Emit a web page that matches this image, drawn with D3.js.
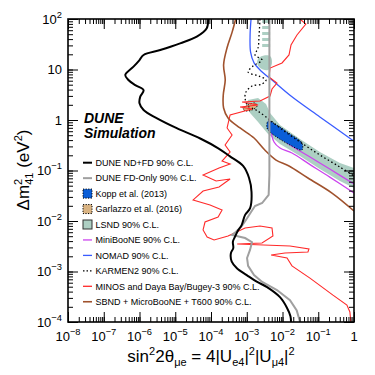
<!DOCTYPE html>
<html>
<head>
<meta charset="utf-8">
<script src="https://cdn.jsdelivr.net/npm/d3@7"></script>
<style>
  body { margin: 0; background: #fff; }
  svg { font-family: "Liberation Sans", Arial, sans-serif; }
</style>
</head>
<body>
<svg id="chart" width="375" height="375"></svg>
<script>
// sensitivity / exclusion curves: [sin^2 2theta_mue, dm2_41 (eV^2)]
const duneNDFD = [[8.3e-5,100],[7.6e-5,65.5],[4.0e-5,44.7],[1.37e-5,33],[3.8e-6,24.3],[1.3e-6,19.4],[1.0e-6,15.4],[6.8e-7,11.4],[4.0e-7,7.8],[4.9e-7,6.2],[7.6e-7,4.9],[1.3e-6,3.9],[1.05e-6,2.9],[1.0e-6,2.14],[1.3e-6,1.58],[3.1e-6,1.08],[1.1e-5,0.69],[5.0e-5,0.43],[1.6e-4,0.275],[3.4e-4,0.19],[7.9e-4,0.123],[1.16e-3,0.071],[1.36e-3,0.0375],[1.24e-3,0.018],[9.0e-4,0.0132],[7.2e-4,0.0083],[5.8e-4,0.0066],[4.7e-4,0.0049],[4.1e-4,0.0039],[4.2e-4,0.0029],[3.6e-4,0.0023],[3.8e-4,0.00156],[5.3e-4,0.00116],[1.0e-3,8.5e-4],[1.9e-3,6.3e-4],[3.7e-3,4.9e-4],[8.5e-3,3.1e-4],[1.34e-2,1.9e-4],[1.67e-2,1.3e-4],[1.73e-2,1e-4]];
const duneFD = [[4.3e-3,100],[4.3e-3,0.081],[4.1e-3,0.033],[2.7e-3,0.0227],[1.7e-3,0.0198],[1.32e-3,0.0151],[9.5e-4,0.0105],[6.9e-4,0.0076],[5.0e-4,0.0061],[3.9e-4,0.0053],[9.0e-4,0.0046],[1.4e-3,0.0038],[1.24e-3,0.0027],[1.02e-3,0.00185],[1.09e-3,0.00129],[1.6e-3,8.5e-4],[2.7e-3,6.2e-4],[7.0e-3,4.3e-4],[1.62e-2,2.7e-4],[2.5e-2,1.7e-4],[3.1e-2,1e-4]];
const sbnd = [[4.9e-4,100],[3.9e-4,55],[2.8e-4,26.7],[2.25e-4,12.3],[2.5e-4,6.2],[2.2e-4,3.1],[2.25e-4,1.73],[3.0e-4,1.1],[6.5e-4,0.695],[1.6e-3,0.44],[3.2e-3,0.255],[6.6e-3,0.161],[1.52e-2,0.123],[5.15e-2,0.071],[0.242,0.0358],[1,0.0158]];
const nomad = [[1.32e-3,100],[1.24e-3,48],[1.28e-3,22],[1.6e-3,13.5],[2.7e-3,8.9],[5.1e-3,6.2],[1.62e-2,3.1],[0.111,1.15],[1,0.38]];
const miniboone = [[1,0.054],[0.21,0.107],[5.9e-2,0.185],[1.62e-2,0.32],[5.1e-3,0.578],[5.8e-3,0.367],[8.5e-3,0.279],[1.84e-2,0.222],[5.9e-2,0.131],[0.21,0.074],[1,0.0358]];
const karmen = [[2.35e-3,100],[2.21e-3,48.2],[2.07e-3,26.7],[1.71e-3,19.4],[2.67e-3,15.4],[1.5e-3,11.7],[1.09e-3,8.9],[2.21e-3,7.4],[3.46e-3,6.2],[2.67e-3,5.16],[1.41e-3,4.71],[9.5e-4,3.58],[8.97e-4,2.73],[1.09e-3,1.89],[1.82e-3,1.58],[3.46e-3,1.15],[8.5e-3,0.695],[3.08e-2,0.367],[0.111,0.203],[0.404,0.117],[1,0.078]];
const minos = [[3.08e-2,100],[4.5e-2,79.6],[2.54e-2,48.2],[1.73e-2,30.5],[1.52e-2,19.4],[9.7e-3,13.5],[4.48e-3,10.7],[4.2e-3,7.1],[7.0e-3,5.4],[5.09e-3,4.11],[4.48e-3,2.98],[2.35e-3,2.38],[7.4e-4,2.27],[2.07e-3,1.98],[6.5e-4,1.81],[1.41e-3,1.65],[3.42e-4,1.26],[2.82e-4,0.695],[3.88e-4,0.505],[2.48e-4,0.32],[3.42e-4,0.232],[2.04e-4,0.154],[3.42e-4,0.135],[1.68e-4,0.112],[6.0e-5,0.0815],[1.39e-4,0.062],[3.42e-4,0.0679],[1.68e-4,0.0471],[6.0e-5,0.0393],[3.16e-5,0.0261],[9.4e-5,0.0207],[2.04e-4,0.0165],[1.58e-4,0.012],[6.8e-5,0.00955],[6.0e-5,0.00664],[7.8e-5,0.00482],[1.22e-4,0.00421],[3.0e-4,0.00505],[8.97e-4,0.00726],[2.35e-3,0.00796],[5.09e-3,0.00726],[5.4e-3,0.00505],[2.67e-3,0.00367],[5.4e-4,0.0035],[1.62e-2,0.0032],[5.5e-2,0.00279],[5.15e-2,0.00243],[1.17e-2,0.00232],[4.8e-3,0.00212],[1.34e-2,0.00185],[1.84e-2,0.00129],[5.86e-2,7.4e-4],[0.258,3.4e-4],[0.634,2.17e-4],[0.767,1.58e-4],[0.818,1e-4]];

// allowed regions (closed polygons)
const lsndStripes = [[83.4,95.5],[63.4,72.6],[48.2,55.3],[36.7,42.1],[27.9,32.0]]; // dm2 ranges of the thin high-dm2 islands
const lsndStripeX = [2.7e-3, 4.5e-3];
const lsndMid = [[2.35e-3,17.7],[4.48e-3,18.5],[5.09e-3,13.5],[3.94e-3,9.8],[2.35e-3,10.7],[1.94e-3,14.1]];
const lsndBand = [[1.09e-3,2.49],[2.07e-3,2.73],[3.46e-3,2.07],[4.48e-3,1.38],[8.5e-3,0.796],[3.08e-2,0.421],[0.111,0.232],[0.404,0.141],[1,0.112],[1,0.045],[0.404,0.062],[0.111,0.107],[3.08e-2,0.194],[8.5e-3,0.335],[3.94e-3,0.528],[2.07e-3,0.912],[1.24e-3,1.38],[9.5e-4,1.98]];
const kopp = [[3.94e-3,0.955],[6.2e-3,0.834],[1.62e-2,0.528],[3.5e-2,0.351],[3.5e-2,0.255],[1.62e-2,0.32],[7.5e-3,0.44],[4.48e-3,0.578],[3.69e-3,0.695]];
const garlazzo = [[7.9e-4,1.65],[1.09e-3,1.98],[1.71e-3,2.17],[1.94e-3,1.89],[1.41e-3,1.58],[9.5e-4,1.51]];

// axes
const xMajor = [1e-8,1e-7,1e-6,1e-5,1e-4,1e-3,1e-2,1e-1,1];
const xTickLabels = [["10","\u22128"],["10","\u22127"],["10","\u22126"],["10","\u22125"],["10","\u22124"],["10","\u22123"],["10","\u22122"],["10","\u22121"],["1",""]];
const yMajor = [1e-4,1e-3,1e-2,1e-1,1,10,100];
const yTickLabels = [["10","\u22124"],["10","\u22123"],["10","\u22122"],["10","\u22121"],["1",""],["10",""],["10","2"]];

const legendLabels = ["DUNE ND+FD 90% C.L.","DUNE FD-Only 90% C.L.","Kopp et al. (2013)","Garlazzo et al. (2016)","LSND 90% C.L.","MiniBooNE 90% C.L.","NOMAD 90% C.L.","KARMEN2 90% C.L.","MINOS and Daya Bay/Bugey-3 90% C.L.","SBND + MicroBooNE + T600 90% C.L."];

const svg = d3.select("#chart");
const L = 68, R = 354, T = 19, B = 322;

const x = d3.scaleLog().domain([1e-8, 1]).range([L, R]);
const y = d3.scaleLog().domain([1e-4, 100]).range([B, T]);

svg.append("defs").append("clipPath").attr("id", "plotclip")
  .append("rect").attr("x", L).attr("y", T).attr("width", R - L).attr("height", B - T);

const plot = svg.append("g").attr("clip-path", "url(#plotclip)");

const smooth = d3.line().x(d => x(d[0])).y(d => y(d[1])).curve(d3.curveCatmullRom.alpha(0.5));
const jagged = d3.line().x(d => x(d[0])).y(d => y(d[1]));
const closed = d3.line().x(d => x(d[0])).y(d => y(d[1])).curve(d3.curveCatmullRomClosed.alpha(0.5));

const C = {
  nd: "#000", fd: "#a0a0a0", kopp: "#0b5ed7", garl: "#d9b382", lsnd: "#adcfc3",
  mini: "#cc44ee", nomad: "#3a5cff", karmen: "#000", minos: "#ff2a2a", sbnd: "#a0522d"
};

// fills
lsndStripes.forEach(s => plot.append("rect")
  .attr("x", x(lsndStripeX[0])).attr("width", x(lsndStripeX[1]) - x(lsndStripeX[0]))
  .attr("y", y(s[1])).attr("height", y(s[0]) - y(s[1])).attr("fill", C.lsnd));
plot.append("path").attr("d", closed(lsndMid)).attr("fill", C.lsnd);
plot.append("path").attr("d", jagged(lsndBand) + "Z").attr("fill", C.lsnd);
plot.append("path").attr("d", smooth(miniboone)).attr("fill", "none").attr("stroke", C.mini).attr("stroke-width", 1.3);
plot.append("path").attr("d", closed(kopp)).attr("fill", C.kopp)
  .attr("stroke", "#000").attr("stroke-width", 1).attr("stroke-dasharray", "1.2,1.6");
plot.append("path").attr("d", closed(garlazzo)).attr("fill", C.garl)
  .attr("stroke", "#000").attr("stroke-width", 1).attr("stroke-dasharray", "1.2,1.6");

// lines
plot.append("path").attr("d", smooth(nomad)).attr("fill", "none").attr("stroke", C.nomad).attr("stroke-width", 1.3);
plot.append("path").attr("d", smooth(karmen)).attr("fill", "none").attr("stroke", C.karmen)
  .attr("stroke-width", 1.3).attr("stroke-dasharray", "1.5,2.5");
plot.append("path").attr("d", jagged(minos)).attr("fill", "none").attr("stroke", C.minos).attr("stroke-width", 1.1);
plot.append("path").attr("d", smooth(sbnd)).attr("fill", "none").attr("stroke", C.sbnd).attr("stroke-width", 1.6);
plot.append("path").attr("d", jagged(duneFD)).attr("fill", "none").attr("stroke", C.fd).attr("stroke-width", 2);
plot.append("path").attr("d", smooth(duneNDFD)).attr("fill", "none").attr("stroke", C.nd).attr("stroke-width", 2);

// axes: ticks on all four sides, pointing inward
const xMinor = x.ticks();
const yMinor = y.ticks();
function tickAxis(axisFn, scale, vals, size, transform) {
  const g = svg.append("g").attr("transform", transform)
    .call(axisFn(scale).tickValues(vals).tickSize(-size).tickFormat(""));
  g.select(".domain").remove();
  g.selectAll("line").attr("stroke", "#000").attr("stroke-width", 1);
  return g;
}
tickAxis(d3.axisBottom, x, xMinor, 5, `translate(0,${B})`);
tickAxis(d3.axisBottom, x, xMajor, 10, `translate(0,${B})`);
tickAxis(d3.axisTop, x, xMinor, 5, `translate(0,${T})`);
tickAxis(d3.axisTop, x, xMajor, 10, `translate(0,${T})`);
tickAxis(d3.axisLeft, y, yMinor, 5, `translate(${L},0)`);
tickAxis(d3.axisLeft, y, yMajor, 10, `translate(${L},0)`);
tickAxis(d3.axisRight, y, yMinor, 5, `translate(${R},0)`);
tickAxis(d3.axisRight, y, yMajor, 10, `translate(${R},0)`);

svg.append("rect").attr("x", L).attr("y", T).attr("width", R - L).attr("height", B - T)
  .attr("fill", "none").attr("stroke", "#000").attr("stroke-width", 1.6);

function powLabel(sel, lab, size) {
  sel.append("tspan").text(lab[0]);
  if (lab[1]) sel.append("tspan").attr("dy", -size * 0.45).attr("font-size", size * 0.72).text(lab[1]);
}
xMajor.forEach((v, i) => {
  const t = svg.append("text").attr("x", x(v)).attr("y", 341).attr("text-anchor", "middle")
    .attr("font-size", 13);
  powLabel(t, xTickLabels[i], 13);
});
yMajor.forEach((v, i) => {
  const t = svg.append("text").attr("x", 62).attr("y", y(v) + 4.5).attr("text-anchor", "end")
    .attr("font-size", 13);
  powLabel(t, yTickLabels[i], 13);
});

// axis titles
const xt = svg.append("text").attr("x", 211).attr("y", 362).attr("text-anchor", "middle").attr("font-size", 17);
xt.append("tspan").text("sin");
xt.append("tspan").attr("dy", -7).attr("font-size", 11).text("2");
xt.append("tspan").attr("dy", 7).text("2\u03b8");
xt.append("tspan").attr("dy", 4).attr("font-size", 11).text("\u03bce");
xt.append("tspan").attr("dy", -4).text(" = 4|U");
xt.append("tspan").attr("dy", 4).attr("font-size", 11).text("e4");
xt.append("tspan").attr("dy", -4).text("|");
xt.append("tspan").attr("dy", -7).attr("font-size", 11).text("2");
xt.append("tspan").attr("dy", 7).text("|U");
xt.append("tspan").attr("dy", 4).attr("font-size", 11).text("\u03bc4");
xt.append("tspan").attr("dy", -4).text("|");
xt.append("tspan").attr("dy", -7).attr("font-size", 11).text("2");

const yt = svg.append("text").attr("transform", "translate(29,170) rotate(-90)")
  .attr("text-anchor", "middle").attr("font-size", 17);
yt.append("tspan").text("\u0394m");
yt.append("tspan").attr("dy", -7).attr("font-size", 11).text("2");
yt.append("tspan").attr("dx", -6).attr("dy", 11).attr("font-size", 11).text("41");
yt.append("tspan").attr("dy", -4).text(" (eV");
yt.append("tspan").attr("dy", -7).attr("font-size", 11).text("2");
yt.append("tspan").attr("dy", 7).text(")");

// DUNE Simulation label
svg.append("text").attr("x", 84).attr("y", 123).attr("font-size", 14)
  .attr("font-weight", "bold").attr("font-style", "italic").text("DUNE");
svg.append("text").attr("x", 84).attr("y", 137.5).attr("font-size", 14)
  .attr("font-weight", "bold").attr("font-style", "italic").text("Simulation");

// legend
const legY0 = 162.7, legDy = 15.45, sx0 = 83, sx1 = 92;
const legStyles = [
  {type: "line", color: C.nd, w: 2},
  {type: "line", color: C.fd, w: 2},
  {type: "box", color: C.kopp, dash: true},
  {type: "box", color: C.garl, dash: true},
  {type: "box", color: C.lsnd, dash: false},
  {type: "line", color: C.mini, w: 1.3},
  {type: "line", color: C.nomad, w: 1.3},
  {type: "line", color: C.karmen, w: 1.3, dash: "1.5,2"},
  {type: "line", color: C.minos, w: 1.3},
  {type: "line", color: C.sbnd, w: 1.6}
];
legendLabels.forEach((lab, i) => {
  const cy = legY0 + i * legDy;
  const st = legStyles[i];
  if (st.type === "line") {
    svg.append("line").attr("x1", sx0).attr("x2", sx1).attr("y1", cy).attr("y2", cy)
      .attr("stroke", st.color).attr("stroke-width", st.w).attr("stroke-dasharray", st.dash || null);
  } else {
    svg.append("rect").attr("x", sx0).attr("y", cy - 4.5).attr("width", 9).attr("height", 9)
      .attr("fill", st.color).attr("stroke", st.dash ? "#000" : "#333").attr("stroke-width", 1)
      .attr("stroke-dasharray", st.dash ? "1.2,1.4" : null);
  }
  svg.append("text").attr("x", 95.5).attr("y", cy + 3.2).attr("font-size", 9).attr("fill", "#000").text(lab);
});
</script>
</body>
</html>
